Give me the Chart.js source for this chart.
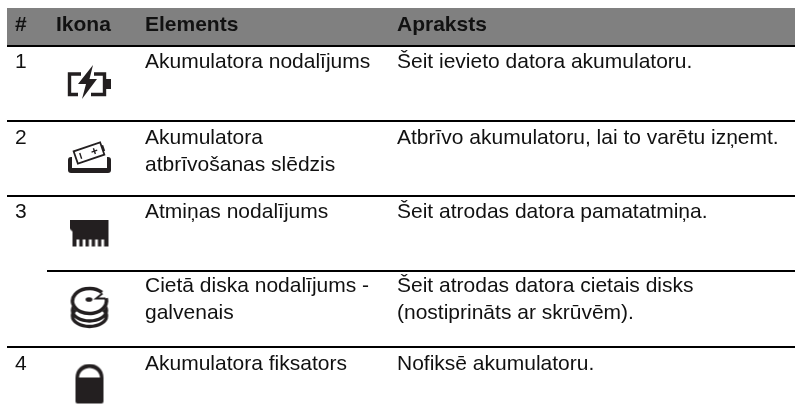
<!DOCTYPE html>
<html lang="lv">
<head>
    <meta charset="UTF-8">
    <title>Ikonas</title>
    <script src="https://cdn.jsdelivr.net/npm/chart.js"></script>
    <style>
        html, body { margin: 0; padding: 0; background: #fff; }
        canvas { display: block; }
    </style>
</head>
<body>
    <canvas id="tableChart" width="795" height="417"></canvas>
    <script>
        // table content
        const headers = ['#', 'Ikona', 'Elements', 'Apraksts'];
        const rowNumbers = ['1', '2', '3', '', '4'];
        const elementLines = [
            ['Akumulatora nodalījums'],
            ['Akumulatora', 'atbrīvošanas slēdzis'],
            ['Atmiņas nodalījums'],
            ['Cietā diska nodalījums -', 'galvenais'],
            ['Akumulatora fiksators']
        ];
        const descriptionLines = [
            ['Šeit ievieto datora akumulatoru.'],
            ['Atbrīvo akumulatoru, lai to varētu izņemt.'],
            ['Šeit atrodas datora pamatatmiņa.'],
            ['Šeit atrodas datora cietais disks', '(nostiprināts ar skrūvēm).'],
            ['Nofiksē akumulatoru.']
        ];

        // table geometry, in axis units
        const columnStarts = [15, 56, 145, 397];
        const headerTop = 8;
        const headerBottom = 46;
        const ruleLevels = [121, 196, 271, 347];
        const ruleStarts = [7, 7, 47, 7];
        const tableLeft = 7;
        const tableRight = 795;
        const firstBaselines = [68, 144, 218, 292, 370];
        const iconColumn = [90, 90, 89.5, 89.5, 89.5];
        const iconLevels = [82, 158, 233.5, 307, 384];

        const INK = '#231f20';
        const TEXT = '#111111';

        function makeIcon(w, h, draw) {
            const c = document.createElement('canvas');
            c.width = w;
            c.height = h;
            const g = c.getContext('2d');
            g.fillStyle = INK;
            g.strokeStyle = INK;
            draw(g);
            return c;
        }

        const batteryIcon = makeIcon(48, 36, g => {
            // body, split open around the bolt
            g.lineWidth = 3.4;
            g.beginPath();
            g.moveTo(15, 10);
            g.lineTo(3.5, 10);
            g.lineTo(3.5, 30.5);
            g.lineTo(12, 30.5);
            g.moveTo(28, 10);
            g.lineTo(38.5, 10);
            g.lineTo(38.5, 30.5);
            g.lineTo(25, 30.5);
            g.stroke();
            g.fillRect(40, 15, 5, 10);
            g.beginPath();
            g.moveTo(27, 1);
            g.lineTo(12, 20);
            g.lineTo(20, 20);
            g.lineTo(16, 35);
            g.lineTo(31, 15);
            g.lineTo(23.5, 15);
            g.closePath();
            g.fill();
        });

        const releaseIcon = makeIcon(48, 40, g => {
            // tray
            g.beginPath();
            g.roundRect(2, 19, 43, 16, 3);
            g.fill();
            g.fillStyle = '#fff';
            g.fillRect(6, 19, 35, 11);
            g.fillStyle = INK;
            // tilted battery
            g.save();
            g.translate(23, 15);
            g.rotate(-19 * Math.PI / 180);
            g.lineWidth = 1.8;
            g.fillStyle = '#fff';
            g.fillRect(-14, -6.5, 28, 13);
            g.strokeRect(-14, -6.5, 28, 13);
            g.fillStyle = INK;
            g.fillRect(14, -3, 2, 6);
            g.fillRect(-9.5, -3, 1.4, 6);
            g.fillRect(5, -3, 1.4, 6);
            g.fillRect(2.7, -0.7, 6, 1.4);
            g.restore();
        });

        const memoryIcon = makeIcon(40, 28, g => {
            g.beginPath();
            g.moveTo(0, 0);
            g.lineTo(39, 0);
            g.lineTo(39, 27);
            g.lineTo(3, 27);
            g.lineTo(3, 12);
            g.lineTo(0, 9);
            g.closePath();
            g.fill();
            g.fillStyle = '#fff';
            for (let i = 0; i < 5; i++) {
                g.fillRect(7 + i * 6.2, 20, 2.8, 7);
            }
        });

        const diskIcon = makeIcon(40, 44, g => {
            g.lineWidth = 3.4;
            for (let cy of [31, 25.5]) {
                g.beginPath();
                g.ellipse(20, cy, 17, 10.5, 0, 0, Math.PI * 2);
                g.stroke();
            }
            g.fillStyle = '#fff';
            g.beginPath();
            g.ellipse(20, 16, 18.5, 14, 0, 0, Math.PI * 2);
            g.fill();
            g.lineWidth = 3.6;
            g.beginPath();
            g.ellipse(20, 16, 17, 12.5, 0, -0.22, Math.PI * 2 - 0.75);
            g.stroke();
            // notch on the right of the top disk
            g.lineWidth = 1.8;
            g.beginPath();
            g.moveTo(33, 8.5);
            g.lineTo(26.5, 13.5);
            g.lineTo(36, 13.5);
            g.stroke();
            g.fillStyle = INK;
            g.beginPath();
            g.ellipse(19.5, 14.5, 3.4, 2.3, 0, 0, Math.PI * 2);
            g.fill();
        });

        const lockIcon = makeIcon(30, 41, g => {
            g.beginPath();
            g.moveTo(1, 14.5);
            g.bezierCurveTo(1, 5, 8, 0.5, 15, 0.5);
            g.bezierCurveTo(22, 0.5, 29, 5, 29, 14.5);
            g.lineTo(29, 38);
            g.quadraticCurveTo(29, 40, 27, 40);
            g.lineTo(3, 40);
            g.quadraticCurveTo(1, 40, 1, 38);
            g.closePath();
            g.fill();
            g.fillStyle = '#fff';
            g.beginPath();
            g.moveTo(4.5, 14);
            g.bezierCurveTo(5, 8, 10, 4.5, 15, 4.5);
            g.bezierCurveTo(20, 4.5, 25, 8, 25.5, 14);
            g.closePath();
            g.fill();
        });

        const icons = [batteryIcon, releaseIcon, memoryIcon, diskIcon, lockIcon];

        const TEXT_FONT = '21px "Liberation Sans"';
        const HEAD_FONT = 'bold 21px "Liberation Sans"';
        const LINE_GAP = 26.5;

        const tableText = {
            id: 'tableText',
            afterDatasetsDraw(chart) {
                const { ctx, scales: { x, y } } = chart;
                ctx.save();
                ctx.textAlign = 'left';
                ctx.textBaseline = 'alphabetic';
                ctx.fillStyle = TEXT;
                ctx.font = HEAD_FONT;
                headers.forEach((h, i) => {
                    ctx.fillText(h, x.getPixelForValue(columnStarts[i]), y.getPixelForValue(31));
                });
                ctx.font = TEXT_FONT;
                rowNumbers.forEach((n, r) => {
                    const base = firstBaselines[r];
                    ctx.fillText(n, x.getPixelForValue(columnStarts[0]), y.getPixelForValue(base));
                    elementLines[r].forEach((line, k) => {
                        ctx.fillText(line, x.getPixelForValue(columnStarts[2]), y.getPixelForValue(base + k * LINE_GAP));
                    });
                    descriptionLines[r].forEach((line, k) => {
                        ctx.fillText(line, x.getPixelForValue(columnStarts[3]), y.getPixelForValue(base + k * LINE_GAP));
                    });
                });
                ctx.restore();
            }
        };

        const ruleSets = ruleLevels.map((level, i) => ({
            type: 'line',
            data: [{ x: ruleStarts[i], y: level }, { x: tableRight, y: level }],
            borderColor: '#000',
            borderWidth: 2,
            pointRadius: 0,
            fill: false
        }));

        new Chart(document.getElementById('tableChart'), {
            type: 'scatter',
            data: {
                datasets: [
                    {
                        type: 'line',
                        data: [{ x: tableLeft, y: headerBottom }, { x: tableRight, y: headerBottom }],
                        borderColor: '#000',
                        borderWidth: 2,
                        pointRadius: 0,
                        backgroundColor: '#808080',
                        fill: { value: headerTop }
                    },
                    ...ruleSets,
                    {
                        data: iconLevels.map((level, i) => ({ x: iconColumn[i], y: level })),
                        pointStyle: icons,
                        pointRadius: 20,
                        showLine: false
                    }
                ]
            },
            options: {
                responsive: false,
                animation: false,
                layout: { padding: 0, autoPadding: false },
                plugins: { legend: { display: false }, tooltip: { enabled: false } },
                scales: {
                    x: { type: 'linear', min: 0, max: 795, display: false },
                    y: { type: 'linear', min: 0, max: 417, reverse: true, display: false }
                }
            },
            plugins: [tableText]
        });
    </script>
</body>
</html>
